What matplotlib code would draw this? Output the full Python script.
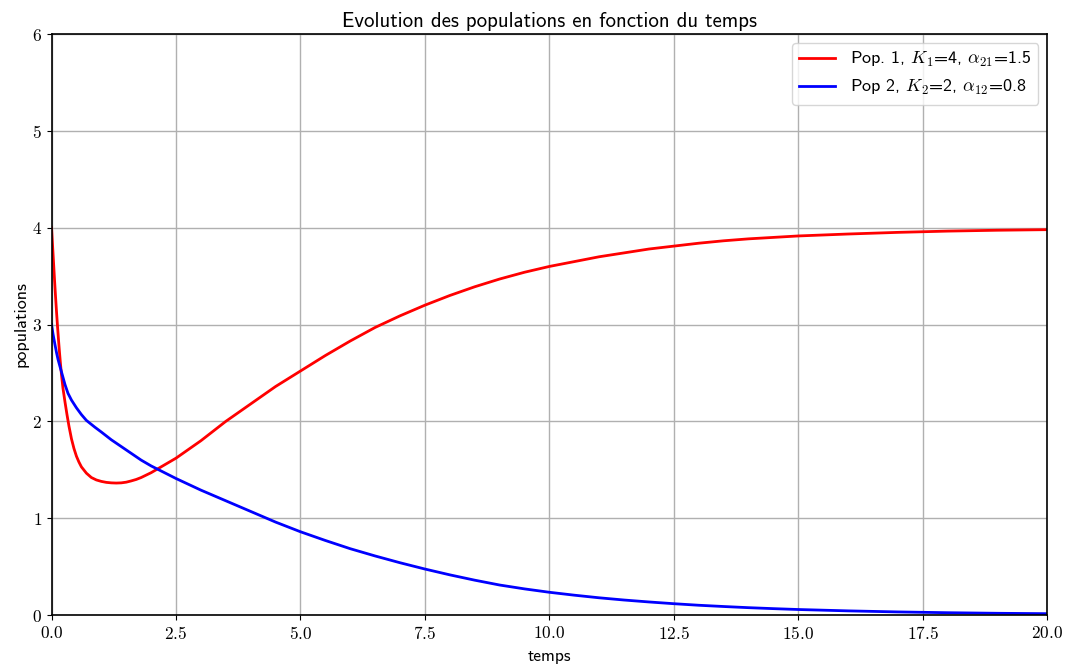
import matplotlib
matplotlib.use("Agg")
import matplotlib.pyplot as plt
from matplotlib.ticker import FuncFormatter

plt.rcParams['mathtext.fontset'] = 'cm'
plt.rcParams['font.family'] = ['cmss10', 'DejaVu Sans']
plt.rcParams['axes.unicode_minus'] = False

# Population 1 (competition model), sampled values over time
t_pop1 = [0, 0.02, 0.04, 0.06, 0.08, 0.10, 0.12, 0.14, 0.16, 0.18, 0.20, 0.23,
          0.27, 0.31, 0.35, 0.40, 0.45, 0.50, 0.55, 0.6, 0.7, 0.8, 0.9, 1.0,
          1.1, 1.2, 1.3, 1.4, 1.5, 1.6, 1.7, 1.8, 1.9, 2.0, 2.5, 3.0, 3.5, 4.0,
          4.5, 5.0, 5.5, 6.0, 6.5, 7.0, 7.5, 8.0, 8.5, 9.0, 9.5, 10.0, 10.5,
          11.0, 11.5, 12.0, 12.5, 13.0, 13.5, 14.0, 14.5, 15.0, 16.0, 17.0,
          18.0, 19.0, 20.0]
pop1 = [4.0, 3.82, 3.64, 3.46, 3.29, 3.13, 2.98, 2.84, 2.71, 2.59, 2.48, 2.34,
        2.20, 2.07, 1.95, 1.82, 1.72, 1.64, 1.58, 1.53, 1.465, 1.42, 1.395,
        1.38, 1.37, 1.365, 1.363, 1.365, 1.372, 1.385, 1.40, 1.42, 1.445,
        1.47, 1.62, 1.80, 2.00, 2.18, 2.36, 2.52, 2.68, 2.83, 2.97, 3.09,
        3.20, 3.30, 3.39, 3.47, 3.54, 3.60, 3.65, 3.70, 3.74, 3.78, 3.81,
        3.84, 3.865, 3.885, 3.90, 3.915, 3.935, 3.952, 3.965, 3.974, 3.98]

# Population 2, sampled values over time
t_pop2 = [0, 0.03, 0.066, 0.1, 0.13, 0.167, 0.2, 0.27, 0.33, 0.4, 0.5, 0.6,
          0.7, 0.87, 1.0, 1.2, 1.4, 1.6, 1.8, 2.0, 2.5, 3.0, 3.5, 4.0, 4.5,
          5.0, 5.5, 6.0, 6.5, 7.0, 7.5, 8.0, 8.5, 9.0, 9.5, 10.0, 10.5, 11.0,
          11.5, 12.0, 12.5, 13.0, 13.5, 14.0, 14.5, 15.0, 16.0, 17.0, 18.0,
          19.0, 20.0]
pop2 = [3.0, 2.90, 2.80, 2.71, 2.64, 2.57, 2.51, 2.38, 2.29, 2.22, 2.14, 2.07,
        2.01, 1.94, 1.89, 1.81, 1.74, 1.67, 1.60, 1.54, 1.41, 1.29, 1.18,
        1.07, 0.96, 0.86, 0.77, 0.685, 0.61, 0.54, 0.475, 0.415, 0.36, 0.31,
        0.27, 0.235, 0.205, 0.178, 0.155, 0.135, 0.117, 0.101, 0.088, 0.076,
        0.066, 0.057, 0.043, 0.032, 0.024, 0.018, 0.014]

label1 = r'Pop. 1, $K_1$=4, $\alpha_{21}$=1.5'
label2 = r'Pop 2, $K_2$=2, $\alpha_{12}$=0.8'

fig = plt.figure(figsize=(10.74, 6.68), dpi=100)
ax = fig.add_axes([0.048, 0.0793, 0.927, 0.8697])

ax.plot(t_pop1, pop1, color='red', lw=2, label=label1)
ax.plot(t_pop2, pop2, color='blue', lw=2, label=label2)

ax.set_xlim(0, 20)
ax.set_ylim(0, 6)
ax.set_xticks([0, 2.5, 5, 7.5, 10, 12.5, 15, 17.5, 20])
ax.set_yticks([0, 1, 2, 3, 4, 5, 6])
ax.xaxis.set_major_formatter(FuncFormatter(lambda v, p: r'$%.1f$' % v))
ax.yaxis.set_major_formatter(FuncFormatter(lambda v, p: r'$%d$' % v))
ax.tick_params(labelsize=12.5)
ax.grid(True, color='#b0b0b0', lw=1)
for s in ax.spines.values():
    s.set_linewidth(1.2)

ax.set_title('Evolution des populations en fonction du temps', fontsize=15, pad=5)
ax.set_xlabel('temps', fontsize=12.5, labelpad=5)
ax.set_ylabel('populations', fontsize=13, labelpad=2)
ax.legend(loc='upper right', fontsize=13)

fig.savefig('out.png', dpi=100)
